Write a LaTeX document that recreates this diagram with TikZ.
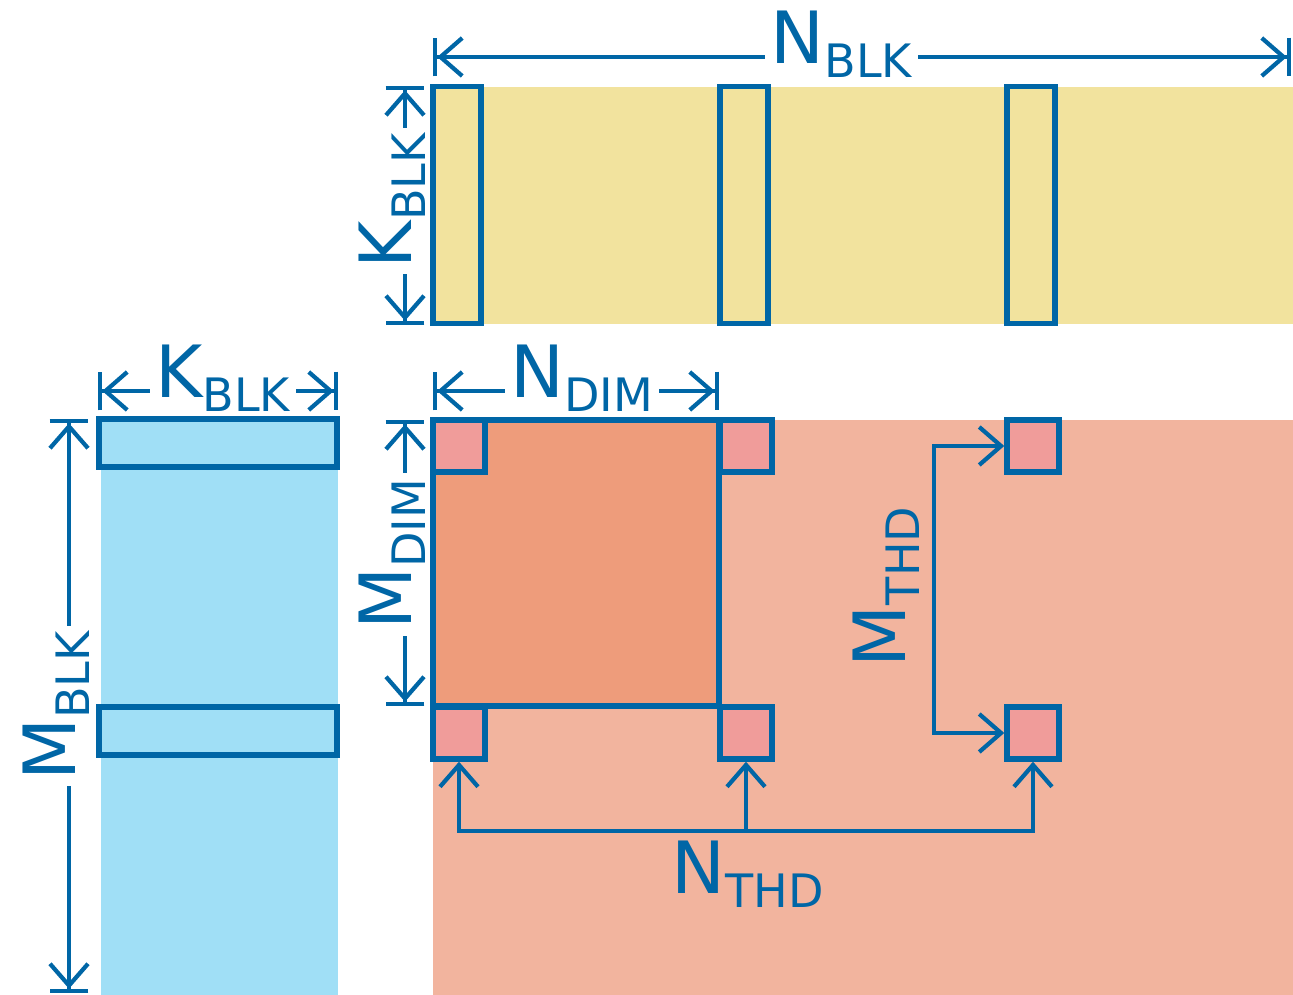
\documentclass[tikz,border=0pt]{standalone}
\usepackage{fontspec}
\setmainfont{DejaVu Sans}
\usetikzlibrary{arrows.meta,positioning}

\definecolor{tblue}{HTML}{0066A6}
\definecolor{ayellow}{HTML}{F2E39E}
\definecolor{bblue}{HTML}{A0DFF6}
\definecolor{csalmon}{HTML}{F2B49E}
\definecolor{cdark}{HTML}{EE9C7B}
\definecolor{thdpink}{HTML}{F09C9A}

\newcommand{\dimtxt}[2]{#1\raisebox{-4pt}{\fontsize{13.1}{15}\selectfont #2}}

\tikzset{
    Dimbarb/.tip={Straight Barb[length=6.2pt,width=10.8pt,sep=0pt]},
    Dimend/.tip={Bar[width=11pt,sep=0pt]},
    dim/.style={draw=tblue, line width=1.2pt, {Dimend[] Dimbarb[]}-{Dimbarb[] Dimend[]}},
    thdarrow/.style={draw=tblue, line width=1.2pt},
    lbl/.style={text=tblue, inner sep=0pt, font=\fontsize{20.5}{24}\selectfont},
    dimlbl/.style={lbl, fill=white, inner xsep=1.6pt, yshift=3.7pt},
    blk/.style={draw=tblue, line width=1.55pt, inner sep=0pt},
    thd/.style={blk, fill=thdpink, minimum size=0.52cm},
}

\begin{document}
\begin{tikzpicture}[x=0.01cm, y=-0.01cm]
    \useasboundingbox (0,0) rectangle (1293,995);

    % matrices
    \fill [ayellow] (433,87) rectangle (1293,324);
    \fill [bblue] (101,420) rectangle (338,995);
    \fill [csalmon] (433,420) rectangle (1293,995);

    \node [blk, minimum width=0.48cm, minimum height=2.37cm] (b1) at (457,205) {};
    \node [blk, minimum width=0.48cm, minimum height=2.37cm] (b2) at (744,205) {};
    \node [blk, minimum width=0.48cm, minimum height=2.37cm] (b3) at (1031,205) {};

    \node [blk, minimum width=2.38cm, minimum height=0.48cm] (a1) at (218,443) {};
    \node [blk, minimum width=2.38cm, minimum height=0.48cm] (a2) at (218,731) {};

    \node [blk, fill=cdark, minimum size=2.86cm] (c) at (576,563) {};

    \node [thd] (s11) at (459,446) {};
    \node [thd] (s12) at (746,446) {};
    \node [thd] (s13) at (1033,446) {};
    \node [thd] (s21) at (459,733) {};
    \node [thd] (s22) at (746,733) {};
    \node [thd] (s23) at (1033,733) {};

    % block sizes
    \coordinate (nblk1) at (433,57);
    \coordinate (nblk2) at (1291,57);
    \coordinate (kblk1) at (405,86);
    \coordinate (kblk2) at (405,325);
    \coordinate (kblk3) at (98,391);
    \coordinate (kblk4) at (338,391);
    \coordinate (mblk1) at (69,419);
    \coordinate (mblk2) at (69,993);

    \draw [dim] (nblk1) -- node[dimlbl, pos=.476] {\dimtxt{N}{BLK}} (nblk2);
    \draw [dim] (kblk1) -- node[rotate=90, dimlbl, pos=.48] {\dimtxt{K}{BLK}} (kblk2);
    \draw [dim] (kblk3) -- node[dimlbl, pos=.52] {\dimtxt{K}{BLK}} (kblk4);
    \draw [dim] (mblk1) -- node[rotate=90, dimlbl, pos=.5] {\dimtxt{M}{BLK}} (mblk2);

    % tile sizes
    \coordinate (ndim1) at (433,391);
    \coordinate (ndim2) at (719,391);
    \coordinate (mdim1) at (405,420);
    \coordinate (mdim2) at (405,706);

    \draw [dim] (ndim1) -- node[dimlbl, pos=.52] {\dimtxt{N}{DIM}} (ndim2);
    \draw [dim] (mdim1) -- node[rotate=90, dimlbl, pos=.47] {\dimtxt{M}{DIM}} (mdim2);

    % thread strides
    \coordinate (mt) at (934,590);
    \coordinate (nt) at (746,831);

    \draw [thdarrow, Dimbarb-Dimbarb] (s13.west) -| (mt) |- (s23.west);
    \draw [thdarrow, Dimbarb-Dimbarb] (s21.south) |- (nt) -| (s23.south);
    \draw [thdarrow, Dimbarb-] (s22.south) -- (nt);

    \node [lbl, rotate=90] (mthd) at (886,587) {\dimtxt{M}{THD}};
    \node [lbl, anchor=north] (nthd) at (748,840) {\dimtxt{N}{THD}};
\end{tikzpicture}
\end{document}
